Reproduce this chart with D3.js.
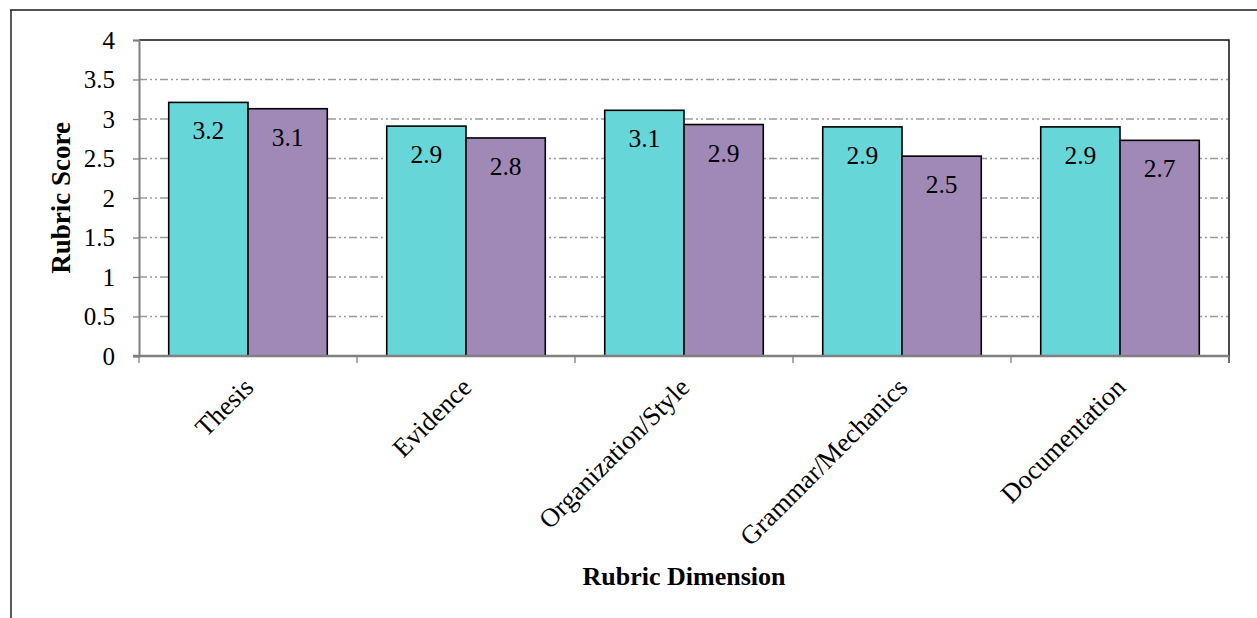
<!DOCTYPE html>
<html>
<head>
<meta charset="utf-8">
<script src="https://cdn.jsdelivr.net/npm/d3@7"></script>
<style>
  html, body { margin: 0; padding: 0; background: #fff; }
  svg { display: block; font-family: "Liberation Serif", "Times New Roman", serif; }
</style>
</head>
<body>
<svg id="chart" width="1257" height="618"></svg>
<script>
// Rubric scores per dimension, two groups
const categories = ["Thesis", "Evidence", "Organization/Style", "Grammar/Mechanics", "Documentation"];
const seriesNames = ["Group A", "Group B"];
const groupA = [3.21, 2.91, 3.11, 2.90, 2.90];
const groupB = [3.13, 2.76, 2.93, 2.53, 2.73];
const yTicks = [0, 0.5, 1, 1.5, 2, 2.5, 3, 3.5, 4];
const colors = ["#66D6D8", "#A089B6"];

const svg = d3.select("#chart");
const plot = { left: 139, right: 1229, top: 40, bottom: 356 };

// Outer chart frame (left and top edges)
svg.append("line").attr("x1", 11).attr("x2", 11).attr("y1", 10).attr("y2", 618)
  .attr("stroke", "#5a5a5a").attr("stroke-width", 2);
svg.append("line").attr("x1", 10).attr("x2", 1257).attr("y1", 10).attr("y2", 10)
  .attr("stroke", "#1a1a1a").attr("stroke-width", 1.3);

const x0 = d3.scaleBand().domain(categories).range([plot.left, plot.right]).padding(0);
const x1 = d3.scaleBand().domain(seriesNames).range([0, x0.step()]).paddingInner(0).paddingOuter(0.375);
const y = d3.scaleLinear().domain([0, 4]).range([plot.bottom, plot.top]);

// Dash-dot gridlines
svg.append("g").selectAll("line")
  .data(yTicks.filter(t => t > 0 && t < 4))
  .join("line")
  .attr("x1", plot.left).attr("x2", plot.right)
  .attr("y1", d => y(d)).attr("y2", d => y(d))
  .attr("stroke", "#9a9a9a").attr("stroke-width", 1.3)
  .attr("stroke-dasharray", "8,3,2,3,2,3");

// Plot area top and right borders
svg.append("path")
  .attr("d", `M${plot.left},${plot.top}H${plot.right}V${plot.bottom + 7}`)
  .attr("fill", "none").attr("stroke", "#111").attr("stroke-width", 1.5);

// Bars
const rows = categories.map((c, i) => ({ cat: c, vals: [groupA[i], groupB[i]] }));
const fmt = d3.format(".1f");
const groups = svg.append("g").selectAll("g")
  .data(rows).join("g")
  .attr("transform", d => `translate(${x0(d.cat)},0)`);

groups.selectAll("rect")
  .data(d => d.vals.map((v, j) => ({ v, s: seriesNames[j], j })))
  .join("rect")
  .attr("x", d => x1(d.s))
  .attr("y", d => y(d.v))
  .attr("width", x1.bandwidth())
  .attr("height", d => y(0) - y(d.v))
  .attr("fill", d => colors[d.j])
  .attr("stroke", "#000").attr("stroke-width", 1.6);

groups.selectAll("text")
  .data(d => d.vals.map((v, j) => ({ v, s: seriesNames[j] })))
  .join("text")
  .attr("x", d => x1(d.s) + x1.bandwidth() / 2)
  .attr("y", d => y(d.v) + 37)
  .attr("text-anchor", "middle")
  .attr("font-size", 25.5)
  .attr("fill", "#000")
  .text(d => fmt(d.v));

// Y axis
const yAxis = d3.axisLeft(y).tickValues(yTicks).tickSize(6).tickPadding(18)
  .tickFormat(d3.format("~g"));
const gy = svg.append("g").attr("transform", `translate(${plot.left},0)`).call(yAxis);
gy.select(".domain").attr("stroke", "#808080").attr("stroke-width", 2);
gy.selectAll(".tick line").attr("stroke", "#808080").attr("stroke-width", 1.3);
gy.selectAll(".tick text").attr("font-size", 25).attr("fill", "#000")
  .attr("font-family", "'Liberation Serif', 'Times New Roman', serif");

// X axis with ticks at category boundaries
const gx = svg.append("g").attr("transform", `translate(0,${plot.bottom})`);
gx.append("line").attr("x1", plot.left - 6).attr("x2", plot.right)
  .attr("y1", 0).attr("y2", 0).attr("stroke", "#808080").attr("stroke-width", 2.5);
const bounds = categories.map(c => x0(c)).concat([plot.right]);
gx.selectAll(".bt").data(bounds).join("line").attr("class", "bt")
  .attr("x1", d => d).attr("x2", d => d).attr("y1", 0).attr("y2", 7)
  .attr("stroke", "#808080").attr("stroke-width", 1.3);
gx.selectAll(".cl").data(categories).join("text").attr("class", "cl")
  .attr("transform", d => `translate(${x0(d) + x0.step() / 2 + 7},${33}) rotate(-45)`)
  .attr("text-anchor", "end")
  .attr("font-size", 26.5)
  .attr("fill", "#000")
  .text(d => d);

// Axis titles
svg.append("text")
  .attr("x", (plot.left + plot.right) / 2).attr("y", 585)
  .attr("text-anchor", "middle").attr("font-size", 26).attr("font-weight", "bold")
  .text("Rubric Dimension");
svg.append("text")
  .attr("transform", `translate(70,${(plot.top + plot.bottom) / 2}) rotate(-90)`)
  .attr("text-anchor", "middle").attr("font-size", 27).attr("font-weight", "bold")
  .text("Rubric Score");
</script>
</body>
</html>
